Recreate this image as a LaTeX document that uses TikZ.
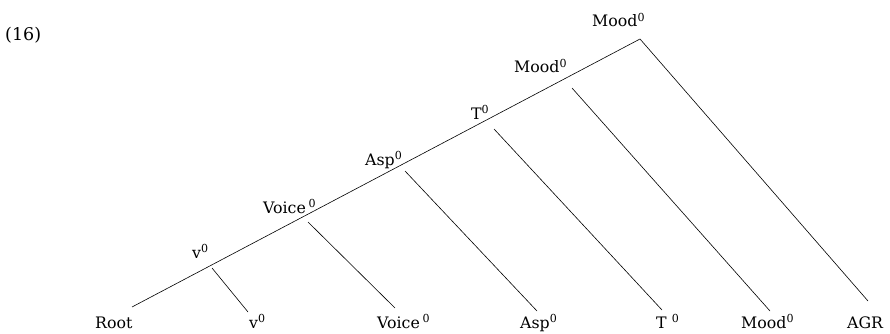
\documentclass[tikz,border=0pt]{standalone}
\usepackage{fontspec}
\setmainfont{DejaVu Serif}
\usetikzlibrary{positioning}

\newcommand{\treefont}{\fontsize{15.8}{18}\selectfont}
\newcommand{\zero}{\textsuperscript{0}}

\begin{document}
\begin{tikzpicture}[
  x=1pt, y=-1pt,
  cat/.style={anchor=base west, inner sep=0pt, font=\treefont},
  branch/.style={line width=0.6pt}
]
\useasboundingbox (0,0) rectangle (890,334);

% Example number
\node[cat, font=\fontsize{17.5}{20}\selectfont] (num) at (5,41) {(16)};

% Projections along the spine
\node[cat] (mood2) at (592,27)  {Mood\zero};
\node[cat] (mood1) at (514,73)  {Mood\zero};
\node[cat] (t1)    at (471,119) {T\zero};
\node[cat] (asp1)  at (365,165) {Asp\zero};
\node[cat] (voice1) at (263,213) {Voice\,\zero};
\node[cat] (v1)    at (192,258) {v\zero};

% Terminals (bottom row)
\node[cat] (root)   at (95,328)  {Root};
\node[cat] (v0)     at (249,328) {v\zero};
\node[cat] (voice0) at (377,328) {Voice\,\zero};
\node[cat] (asp0)   at (520,328) {Asp\zero};
\node[cat] (t0)     at (656,328) {T \zero};
\node[cat] (mood0)  at (741,328) {Mood\zero};
\node[cat] (agr)    at (847,328) {AGR};

% Branch end points
\coordinate (top)      at (640,39);
\coordinate (root-e)   at (132,307);
\coordinate (agr-e)    at (868,301);
\coordinate (v-s)      at (212,268);
\coordinate (v-e)      at (248,312);
\coordinate (voice-s)  at (308,222);
\coordinate (voice-e)  at (395,308);
\coordinate (asp-s)    at (405,171);
\coordinate (asp-e)    at (537,311);
\coordinate (t-s)      at (494,129);
\coordinate (t-e)      at (662,310);
\coordinate (mood-s)   at (572,88);
\coordinate (mood-e)   at (770,311);

% --- spine and right edge ---
\draw[branch] (root-e) -- (top) -- (agr-e);

% --- right daughters ---
\draw[branch] (v-s)     -- (v-e);
\draw[branch] (voice-s) -- (voice-e);
\draw[branch] (asp-s)   -- (asp-e);
\draw[branch] (t-s)     -- (t-e);
\draw[branch] (mood-s)  -- (mood-e);

\end{tikzpicture}
\end{document}
